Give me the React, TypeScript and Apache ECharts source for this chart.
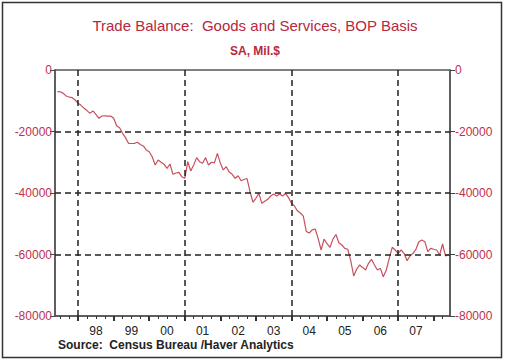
import React, { useEffect, useRef } from "react";
import * as echarts from "echarts";

// Monthly trade balance, SA, Mil.$
const startYear = 1997;
const startMonth = 6; // June 1997
const y1997 = [-7050, -7100, -7600, -8450, -8800, -9000, -9750];
const y1998 = [-10850, -11500, -12460, -13200, -14100, -13300, -14400, -15700, -14960, -14900, -15000, -14960];
const y1999 = [-15700, -18100, -18760, -20600, -22000, -23850, -23900, -23850, -23500, -24200, -24700, -26000];
const y2000 = [-26570, -28200, -30900, -29270, -30000, -30670, -31970, -30570, -33920, -33500, -33270, -34700];
const y2001 = [-35220, -29820, -32840, -30900, -28500, -29820, -30300, -28500, -30900, -30000, -30200, -27100];
const y2002 = [-30300, -32500, -31440, -33200, -33920, -35220, -34370, -36000, -35600, -35300, -39500, -43000];
const y2003 = [-41720, -40100, -43350, -42700, -42050, -40980, -40320, -41000, -40320, -41000, -40100, -41500];
const y2004 = [-43350, -44230, -45800, -46500, -47500, -52500, -53000, -52000, -51700, -54750, -58540, -55000];
const y2005 = [-56500, -57660, -55000, -53500, -56160, -56910, -57990, -58300, -62000, -66990, -64810, -63410];
const y2006 = [-64200, -65040, -62860, -61560, -63410, -65040, -64500, -67230, -65040, -61240, -57660, -58540];
const y2007 = [-59620, -58540, -59620, -62000, -60500, -59620, -58300, -55830, -55280, -55830, -59070, -57990];
const y2008 = [-58300, -58540, -60150, -56590, -60500, -60000];

const yearLabels = ["98", "99", "00", "01", "02", "03", "04", "05", "06", "07"];
const yTicks = [0, -20000, -40000, -60000, -80000];
const gridYears = [1998, 2001, 2004, 2007];
const gridValues = [-20000, -40000, -60000];

const allValues = [
  ...y1997, ...y1998, ...y1999, ...y2000, ...y2001, ...y2002,
  ...y2003, ...y2004, ...y2005, ...y2006, ...y2007, ...y2008,
];

// month index: 0 = Jan 1998
const firstIndex = (startYear - 1998) * 12 + (startMonth - 1);

export default function App() {
  const ref = useRef<HTMLDivElement>(null);

  useEffect(() => {
    if (!ref.current) return;
    const chart = echarts.init(ref.current, undefined, { renderer: "svg" });
    const data = allValues.map((v, i) => [firstIndex + i, v]);
    const labelPos = yearLabels.map((_, i) => 6 + 12 * i);
    const yearTicks: number[] = [];
    for (let m = 0; m <= 120; m += 12) yearTicks.push(m);
    const quarterTicks: number[] = [];
    for (let m = -6; m <= 125; m += 3) if (m % 12 !== 0) quarterTicks.push(m);
    const red = "#c0304a";
    const font = "Liberation Sans, Arial, sans-serif";
    const dash = { type: [6, 4] as any, color: "#222", width: 1.5 };

    chart.setOption({
      animation: false,
      backgroundColor: "#fff",
      title: [
        {
          text: "Trade Balance:  Goods and Services, BOP Basis",
          left: "center",
          top: 13,
          textStyle: { color: "#b5283e", fontSize: 15, fontWeight: "normal", fontFamily: font },
        },
        {
          text: "SA, Mil.$",
          left: "center",
          top: 40,
          textStyle: { color: "#b5283e", fontSize: 12, fontWeight: "bold", fontFamily: font },
        },
      ],
      graphic: [
        {
          type: "rect",
          shape: { x: 2.5, y: 2.5, width: 499, height: 355 },
          style: { fill: "none", stroke: "#333", lineWidth: 1.5 },
          silent: true,
        },
        {
          type: "text",
          left: 58,
          top: 339,
          style: {
            text: "Source:  Census Bureau /Haver Analytics",
            fill: "#222",
            font: "bold 12px 'Liberation Sans', Arial, sans-serif",
          },
        },
      ],
      grid: {
        left: 55,
        right: 60,
        top: 70,
        bottom: 45,
        show: true,
        borderColor: "#555",
        borderWidth: 1.5,
        backgroundColor: "transparent",
      },
      xAxis: [
        {
          type: "value",
          min: -7.8,
          max: 125.5,
          axisLine: { show: true, onZero: false, lineStyle: { color: "#555", width: 1.5 } },
          axisTick: { show: true, customValues: yearTicks, length: 5, lineStyle: { color: "#333", width: 2 } },
          axisLabel: {
            customValues: labelPos,
            formatter: (v: number) => yearLabels[Math.round((v - 6) / 12)] ?? "",
            color: "#222",
            fontSize: 12,
            margin: 9,
            fontFamily: font,
          },
          splitLine: { show: false },
        },
        {
          type: "value",
          min: -7.8,
          max: 125.5,
          position: "bottom",
          axisLine: { show: false, onZero: false },
          axisTick: { show: true, customValues: quarterTicks, length: 3, lineStyle: { color: "#333", width: 1 } },
          axisLabel: { show: false },
          splitLine: { show: false },
        },
      ],
      yAxis: [0, 1].map((i) => ({
        type: "value",
        min: -80000,
        max: 0,
        interval: 20000,
        position: i === 0 ? "left" : "right",
        axisLine: { show: true, onZero: false, lineStyle: { color: "#555", width: 1.5 } },
        axisTick: { show: true, length: 5, lineStyle: { color: "#444" } },
        axisLabel: {
          color: red,
          fontSize: 12,
          margin: i === 0 ? 3 : 5,
          fontFamily: font,
          customValues: yTicks,
          formatter: (v: number) => String(v),
        },
        splitLine: { show: false },
      })),
      series: [
        {
          type: "line",
          data,
          xAxisIndex: 0,
          yAxisIndex: 0,
          showSymbol: false,
          symbol: "none",
          lineStyle: { color: "#c8505e", width: 1.2 },
          markLine: {
            silent: true,
            symbol: ["none", "none"],
            label: { show: false },
            lineStyle: dash,
            data: [
              ...gridYears.map((y) => ({ xAxis: (y - 1998) * 12 })),
              ...gridValues.map((v) => ({ yAxis: v })),
            ],
          },
        },
      ],
    });
    return () => chart.dispose();
  }, []);

  return (
    <div
      ref={ref}
      style={{ position: "absolute", left: 0, top: 0, width: 510, height: 361 }}
    />
  );
}
